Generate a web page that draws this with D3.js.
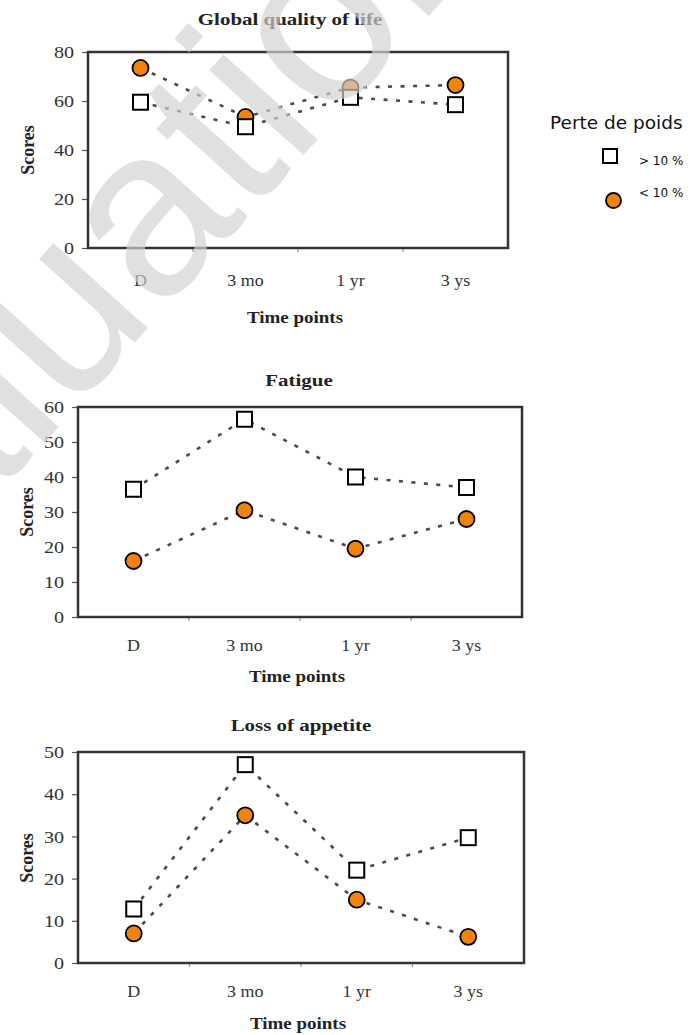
<!DOCTYPE html>
<html><head><meta charset="utf-8">
<script src="https://cdn.jsdelivr.net/npm/d3@7"></script>
<style>body{margin:0;background:#fff} svg{display:block}</style>
</head><body>
<svg id="fig" width="693" height="1035"></svg>
<script>
// Time points shared by the three panels
const timePoints = ["D", "3 mo", "1 yr", "3 ys"];
const seriesLabels = ["> 10 %", "< 10 %"];

// Mean scores, weight loss > 10 % (squares) and < 10 % (circles)
const qolOver10 = [59.5, 49.5, 61.5, 58.5];
const qolUnder10 = [73.5, 53.5, 65.5, 66.5];
const fatigueOver10 = [36.5, 56.5, 40, 37];
const fatigueUnder10 = [16, 30.5, 19.5, 28];
const appetiteOver10 = [12.8, 47, 22, 29.7];
const appetiteUnder10 = [7, 35, 15, 6.2];

// Y tick values per panel
const qolTicks = [0, 20, 40, 60, 80];
const fatigueTicks = [0, 10, 20, 30, 40, 50, 60];
const appetiteTicks = [0, 10, 20, 30, 40, 50];

const panelTitles = ["Global quality of life", "Fatigue", "Loss of appetite"];
const xAxisTitle = "Time points";
const yAxisTitle = "Scores";
const legendTitle = "Perte de poids";

const ORANGE = "#f08408";
const svg = d3.select("#fig");
const serif = "'Liberation Serif','Times New Roman',serif";

const panels = [
  { title: panelTitles[0], over: qolOver10, under: qolUnder10, ticks: qolTicks,
    box: { l: 88, r: 508, t: 52, b: 248 }, titleX: 290, titleY: 25,
    labelY: 286, axisTitleY: 323, scoresX: 34, scoresY: 150 },
  { title: panelTitles[1], over: fatigueOver10, under: fatigueUnder10, ticks: fatigueTicks,
    box: { l: 78, r: 522, t: 407, b: 617 }, titleX: 299, titleY: 386,
    labelY: 651, axisTitleY: 682, scoresX: 33, scoresY: 512 },
  { title: panelTitles[2], over: appetiteOver10, under: appetiteUnder10, ticks: appetiteTicks,
    box: { l: 78, r: 524, t: 752, b: 963 }, titleX: 301, titleY: 731,
    labelY: 997, axisTitleY: 1029, scoresX: 33, scoresY: 858 }
];

function drawPanel(p) {
  const g = svg.append("g");
  const x = d3.scaleBand().domain(timePoints).range([p.box.l, p.box.r]);
  const y = d3.scaleLinear().domain([0, d3.max(p.ticks)]).range([p.box.b, p.box.t]);
  const cx = d => x(d) + x.bandwidth() / 2;

  // small ticks under the x axis at band edges
  g.selectAll("line.xt").data(timePoints.slice(1)).join("line")
    .attr("x1", d => x(d)).attr("x2", d => x(d))
    .attr("y1", p.box.b).attr("y2", p.box.b + 4)
    .attr("stroke", "#999").attr("stroke-width", 1.2);

  // y axis with labels
  const ya = g.append("g").attr("transform", `translate(${p.box.l},0)`)
    .call(d3.axisLeft(y).tickValues(p.ticks).tickSize(6).tickPadding(0));
  ya.select(".domain").remove();
  ya.selectAll(".tick line").attr("stroke", "#555").attr("stroke-width", 1.2);
  ya.selectAll(".tick text")
    .attr("x", -14 / 1.15).attr("transform", "scale(1.15,1)")
    .attr("font-family", serif).attr("font-size", 17.5).attr("fill", "#333");

  // x axis category labels
  const xa = g.append("g").attr("transform", `translate(0,${p.box.b})`)
    .call(d3.axisBottom(x).tickSize(0).tickPadding(0));
  xa.select(".domain").remove();
  xa.selectAll(".tick text").attr("dy", null).attr("y", 0)
    .attr("transform", `translate(0,${p.labelY - p.box.b}) scale(1.12,1)`)
    .attr("font-family", serif).attr("font-size", 16).attr("fill", "#333");

  // frame
  g.append("rect").attr("x", p.box.l).attr("y", p.box.t)
    .attr("width", p.box.r - p.box.l).attr("height", p.box.b - p.box.t)
    .attr("fill", "none").attr("stroke", "#333").attr("stroke-width", 2.5);

  // dotted connecting lines
  const line = d3.line().x(d => cx(d.t)).y(d => y(d.v));
  [p.under, p.over].forEach(vals => {
    g.append("path").datum(timePoints.map((t, i) => ({ t, v: vals[i] })))
      .attr("d", line).attr("fill", "none")
      .attr("stroke", "#4a4a4a").attr("stroke-width", 2.6)
      .attr("stroke-dasharray", "4,8.5");
  });

  // markers: circles first, squares on top
  g.selectAll("circle.m").data(p.under).join("circle")
    .attr("cx", (d, i) => cx(timePoints[i])).attr("cy", d => y(d)).attr("r", 8)
    .attr("fill", ORANGE).attr("stroke", "#000").attr("stroke-width", 1.8);
  g.selectAll("rect.m").data(p.over).join("rect")
    .attr("x", (d, i) => cx(timePoints[i]) - 7.5).attr("y", d => y(d) - 7.5)
    .attr("width", 15).attr("height", 15)
    .attr("fill", "#fff").attr("stroke", "#000").attr("stroke-width", 2);

  // titles
  g.append("text").attr("transform", `translate(${p.titleX},${p.titleY}) scale(1.27,1)`)
    .attr("text-anchor", "middle").attr("font-family", serif)
    .attr("font-weight", "bold").attr("font-size", 16.5).attr("fill", "#222").text(p.title);
  g.append("text").attr("transform", `translate(${(p.box.l + p.box.r) / 2 - 3},${p.axisTitleY}) scale(1.15,1)`)
    .attr("text-anchor", "middle").attr("font-family", serif)
    .attr("font-weight", "bold").attr("font-size", 16.5).attr("fill", "#222").text(xAxisTitle);
  g.append("text").attr("transform", `translate(${p.scoresX},${p.scoresY}) rotate(-90)`)
    .attr("text-anchor", "middle").attr("font-family", serif)
    .attr("font-weight", "bold").attr("font-size", 18).attr("fill", "#222").text(yAxisTitle);
}

panels.forEach(drawPanel);

// legend
const lg = svg.append("g").attr("font-family", "'DejaVu Sans',Verdana,sans-serif");
lg.append("text").attr("x", 550).attr("y", 129).attr("font-size", 18.5).attr("fill", "#111").text(legendTitle);
lg.append("rect").attr("x", 603).attr("y", 149).attr("width", 14).attr("height", 14)
  .attr("fill", "#fff").attr("stroke", "#000").attr("stroke-width", 2);
lg.append("circle").attr("cx", 613.5).attr("cy", 200.5).attr("r", 7.5)
  .attr("fill", ORANGE).attr("stroke", "#000").attr("stroke-width", 1.8);
lg.selectAll("text.s").data(seriesLabels).join("text")
  .attr("x", 639).attr("y", (d, i) => [165, 197][i])
  .attr("font-size", 12).attr("fill", "#111").text(d => d);

// faint overlay lettering
svg.append("text").attr("transform", "translate(-243,762) rotate(-48)")
  .attr("font-family", "'Liberation Sans',Arial,sans-serif")
  .attr("font-size", 240).attr("fill", "#d2d2d2").attr("fill-opacity", 0.68)
  .text("Evaluation");
</script>
</body></html>
